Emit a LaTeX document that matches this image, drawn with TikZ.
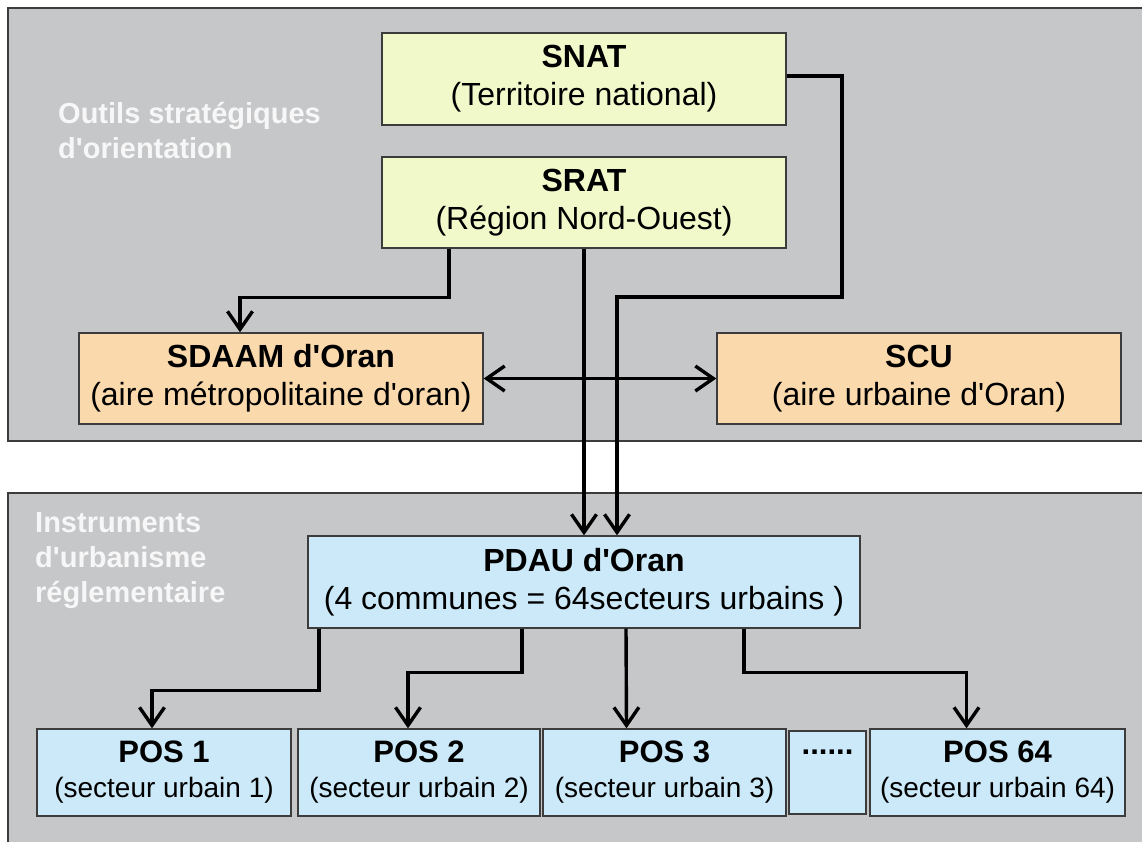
\documentclass[tikz,border=0pt]{standalone}
\usepackage{fontspec}
\setmainfont{Liberation Sans}[Ligatures=TeXOff]
\usetikzlibrary{arrows.meta}
\definecolor{panel}{HTML}{C6C7C9}
\definecolor{yel}{HTML}{F1F8CA}
\definecolor{ora}{HTML}{FAD9AD}
\definecolor{blu}{HTML}{CBE9F8}
\definecolor{edge}{HTML}{3C3C3C}
\definecolor{labc}{HTML}{F7F7F7}
\begin{document}
\begin{tikzpicture}[x=1pt,y=-1pt,
  panelbox/.style={fill=panel,draw=edge,line width=1.6pt},
  box/.style={draw=edge,line width=1.4pt,inner sep=0pt,align=center,
    font=\fontsize{32}{38}\selectfont,text=black},
  posbox/.style={box,fill=blu,minimum height=87pt,font=\fontsize{28}{35}\selectfont},
  lab/.style={text=labc,font=\fontsize{29}{35}\selectfont\bfseries,align=left,inner sep=0pt,anchor=north west},
  arr/.style={line width=3.4pt,-{Straight Barb[length=18pt,width=25pt]}},
  darr/.style={line width=3.4pt,{Straight Barb[length=18pt,width=25pt]}-{Straight Barb[length=18pt,width=25pt]}},
]
\useasboundingbox (0,0) rectangle (1142,841);
% panels
\path[panelbox] (8,8) rectangle (1152,441);
\path[panelbox] (8,493) rectangle (1152,852);
% panel labels
\node[lab] (lab1) at (58,102) {Outils stratégiques\\d'orientation};
\node[lab] (lab2) at (35,512) {Instruments\\d'urbanisme\\réglementaire};
% top boxes
\node[box,fill=yel,minimum width=404pt,minimum height=92pt] (snat) at (584,79)
  {\textbf{SNAT}\\(Territoire national)};
\node[box,fill=yel,minimum width=404pt,minimum height=91pt] (srat) at (584,202.5)
  {\textbf{SRAT}\\(Région Nord-Ouest)};
\node[box,fill=ora,minimum width=404pt,minimum height=91pt] (sdaam) at (281,378.5)
  {\textbf{SDAAM d'Oran}\\(aire métropolitaine d'oran)};
\node[box,fill=ora,minimum width=404pt,minimum height=91pt] (scu) at (919,378.5)
  {\textbf{SCU}\\(aire urbaine d'Oran)};
% PDAU
\node[box,fill=blu,minimum width=552pt,minimum height=92pt] (pdau) at (584,582)
  {\textbf{PDAU d'Oran}\\(4 communes = 64secteurs urbains )};
% POS boxes
\node[posbox,minimum width=254pt] (pos1) at (164,772.5)
  {{\fontsize{31}{35}\selectfont\bfseries POS 1}\\(secteur urbain 1)};
\node[posbox,minimum width=242pt] (pos2) at (419,772.5)
  {{\fontsize{31}{35}\selectfont\bfseries POS 2}\\(secteur urbain 2)};
\node[posbox,minimum width=243pt] (pos3) at (664.5,772.5)
  {{\fontsize{31}{35}\selectfont\bfseries POS 3}\\(secteur urbain 3)};
\node[posbox,minimum width=77pt,minimum height=83pt] (dots) at (827.5,772.5)
  {{\fontsize{31}{35}\selectfont\bfseries ......}\\\phantom{(}};
\node[posbox,minimum width=255pt] (pos64) at (997.5,772.5)
  {{\fontsize{31}{35}\selectfont\bfseries POS 64}\\(secteur urbain 64)};
% connectors top
\coordinate (snatbend) at (842,297);
\draw[arr] ([yshift=3pt]snat.east) -| (snatbend) -| ([xshift=33pt]pdau.north);
\draw[arr] (srat.south) -- (pdau.north);
\draw[arr] ([xshift=-135pt]srat.south) -- ++(0,49) -| ([xshift=-41pt]sdaam.north);
\draw[darr] (sdaam.east) -- (scu.west);
% connectors bottom
\draw[arr] ([xshift=-265pt]pdau.south) -- ++(0,62) -| ([xshift=-12pt]pos1.north);
\draw[arr] ([xshift=-62pt]pdau.south) -- ++(0,44) -| ([xshift=-11pt]pos2.north);
\draw[arr] ([xshift=42pt]pdau.south) -- ([xshift=-38pt]pos3.north);
\draw[arr] ([xshift=160pt]pdau.south) -- ++(0,44) -| ([xshift=-31pt]pos64.north);
\end{tikzpicture}
\end{document}
